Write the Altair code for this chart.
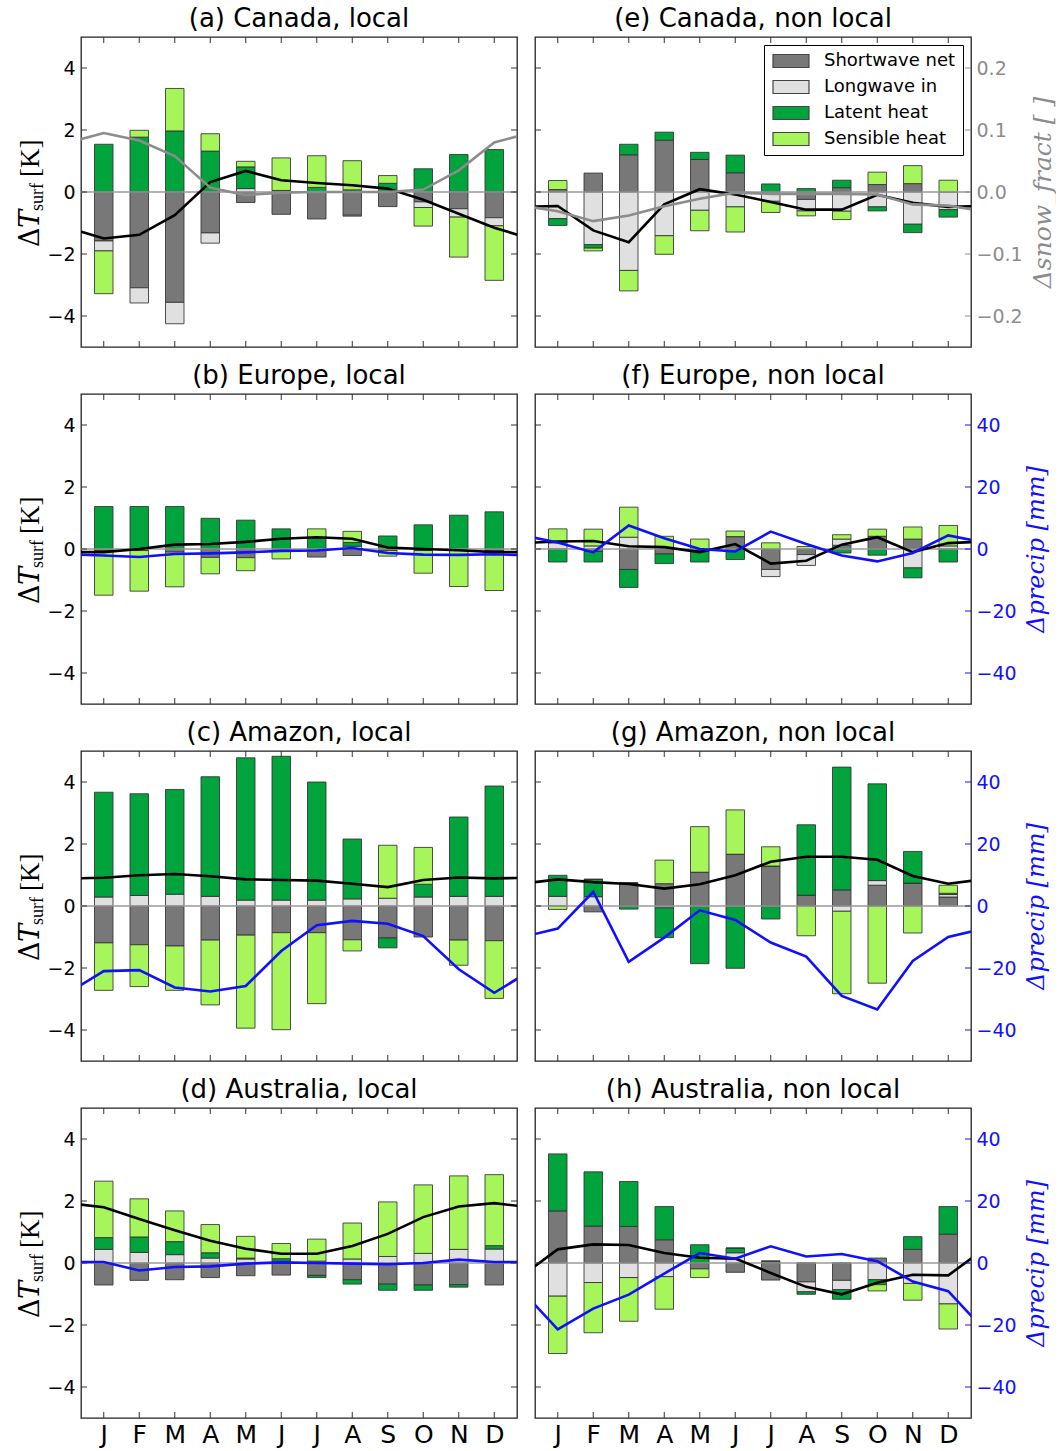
import altair as alt
import pandas as pd

MONTHS = ["J", "F", "M", "A", "M", "J", "J", "A", "S", "O", "N", "D"]
SERIES = ["Shortwave net", "Longwave in", "Latent heat", "Sensible heat"]
COLORS = ["#787878", "#e0e0e0", "#00a33c", "#a6f55a"]
Y_TICKS = [-4, -2, 0, 2, 4]

# ---- Canada -------------------------------------------------------------
canada_local_sw = [-1.58, -3.09, -3.56, -1.32, -0.34, -0.72, -0.87, -0.75, -0.47, -0.32, -0.54, -0.83]
canada_local_lw = [-0.32, -0.49, -0.69, -0.33, 0.11, 0.0, 0.0, -0.03, 0.0, -0.18, -0.27, -0.26]
canada_local_lh = [1.54, 1.77, 1.97, 1.32, 0.70, 0.05, 0.15, 0.07, 0.28, 0.75, 1.21, 1.37]
canada_local_sh = [-1.38, 0.22, 1.37, 0.56, 0.18, 1.05, 1.02, 0.94, 0.25, -0.60, -1.29, -1.76]
canada_local_dt = [-1.50, -1.38, -0.75, 0.32, 0.68, 0.38, 0.29, 0.22, 0.11, -0.25, -0.70, -1.15]
canada_local_snow = [0.095, 0.083, 0.058, 0.007, -0.005, -0.001, 0.0, 0.0, 0.0, 0.004, 0.035, 0.080]

canada_nonlocal_sw = [0.08, 0.61, 1.20, 1.67, 1.05, 0.62, 0.0, -0.24, 0.14, 0.24, 0.27, 0.0]
canada_nonlocal_lw = [-0.86, -1.70, -2.53, -1.41, -0.59, -0.48, -0.30, -0.37, -0.62, -0.48, -1.04, -0.57]
canada_nonlocal_lh = [-0.22, -0.11, 0.34, 0.26, 0.23, 0.57, 0.26, 0.11, 0.24, -0.13, -0.27, -0.24]
canada_nonlocal_sh = [0.29, -0.09, -0.66, -0.60, -0.66, -0.81, -0.36, -0.16, -0.27, 0.40, 0.58, 0.38]
canada_nonlocal_dt = [-0.45, -1.24, -1.62, -0.40, 0.09, -0.08, -0.32, -0.57, -0.57, -0.09, -0.35, -0.48]
canada_nonlocal_snow = [-0.031, -0.047, -0.038, -0.023, -0.011, -0.001, -0.003, -0.003, -0.003, -0.004, -0.020, -0.022]

# ---- Europe -------------------------------------------------------------
europe_local_sw = [0.0, 0.0, -0.10, -0.27, -0.28, -0.05, -0.26, -0.21, -0.05, -0.05, 0.0, 0.0]
europe_local_lw = [-0.05, -0.05, 0.0, 0.0, 0.0, 0.0, 0.0, 0.09, 0.0, 0.0, -0.05, -0.05]
europe_local_lh = [1.37, 1.37, 1.37, 0.99, 0.93, 0.65, 0.35, 0.12, 0.42, 0.78, 1.09, 1.20]
europe_local_sh = [-1.44, -1.31, -1.12, -0.53, -0.42, -0.27, 0.30, 0.36, -0.18, -0.73, -1.16, -1.29]
europe_local_dt = [-0.10, 0.0, 0.14, 0.16, 0.23, 0.33, 0.38, 0.33, 0.05, 0.0, -0.04, -0.10]
europe_local_precip = [-2.1, -2.6, -1.6, -1.4, -1.1, -0.6, -0.5, 0.3, -1.3, -1.8, -1.9, -1.7]

europe_nonlocal_sw = [0.0, -0.08, -0.66, -0.16, -0.05, 0.40, -0.66, -0.18, 0.12, 0.41, 0.32, 0.0]
europe_nonlocal_lw = [0.20, 0.10, 0.38, 0.05, 0.0, 0.0, -0.23, -0.35, 0.20, 0.0, -0.61, 0.10]
europe_nonlocal_lh = [-0.42, -0.34, -0.58, -0.31, -0.37, -0.34, 0.0, 0.0, -0.13, -0.20, -0.32, -0.42]
europe_nonlocal_sh = [0.45, 0.54, 0.97, 0.36, 0.32, 0.18, 0.20, 0.08, 0.14, 0.23, 0.39, 0.66]
europe_nonlocal_dt = [0.24, 0.26, 0.09, 0.06, -0.10, 0.16, -0.47, -0.38, 0.14, 0.38, -0.10, 0.19]
europe_nonlocal_precip = [2.1, -1.1, 7.6, 3.5, 0.0, -0.8, 5.6, 1.6, -2.1, -4.0, -1.3, 4.4]

# ---- Amazon -------------------------------------------------------------
amazon_local_sw = [-1.19, -1.25, -1.29, -1.10, -0.94, -0.86, -0.86, -1.09, -1.03, -1.00, -1.10, -1.12]
amazon_local_lw = [0.29, 0.34, 0.38, 0.31, 0.19, 0.19, 0.19, 0.23, 0.25, 0.29, 0.31, 0.31]
amazon_local_lh = [3.38, 3.28, 3.38, 3.86, 4.59, 4.64, 3.81, 1.93, -0.32, 0.41, 2.56, 3.56]
amazon_local_sh = [-1.53, -1.35, -1.43, -2.09, -3.00, -3.13, -2.29, -0.36, 1.71, 1.19, -0.81, -1.86]
amazon_local_dt = [0.91, 0.99, 1.03, 0.96, 0.86, 0.84, 0.82, 0.72, 0.61, 0.84, 0.92, 0.89]
amazon_local_precip = [-21.0, -20.7, -26.3, -27.6, -25.8, -14.5, -6.2, -4.8, -5.7, -9.7, -20.4, -28.0]

amazon_nonlocal_sw = [0.0, -0.19, 0.74, 0.72, 1.09, 1.67, 1.29, 0.35, 0.52, 0.67, 0.74, 0.29]
amazon_nonlocal_lw = [0.31, 0.30, 0.0, -0.06, 0.0, 0.0, 0.0, 0.0, -0.17, 0.15, 0.0, 0.08]
amazon_nonlocal_lh = [0.68, 0.56, -0.10, -0.96, -1.86, -2.01, -0.42, 2.27, 3.96, 3.12, 1.02, 0.04]
amazon_nonlocal_sh = [-0.11, 0.0, 0.0, 0.76, 1.47, 1.43, 0.62, -0.96, -2.66, -2.49, -0.87, 0.26]
amazon_nonlocal_dt = [0.86, 0.77, 0.71, 0.56, 0.70, 0.99, 1.43, 1.59, 1.59, 1.49, 0.97, 0.72]
amazon_nonlocal_precip = [-7.3, 4.6, -18.0, -10.2, -1.4, -4.5, -11.8, -16.3, -29.0, -33.4, -17.7, -10.0]

# ---- Australia ----------------------------------------------------------
australia_local_sw = [-0.71, -0.56, -0.54, -0.47, -0.41, -0.39, -0.40, -0.54, -0.68, -0.71, -0.70, -0.71]
australia_local_lw = [0.44, 0.34, 0.27, 0.16, 0.13, 0.06, 0.06, 0.13, 0.21, 0.31, 0.44, 0.45]
australia_local_lh = [0.38, 0.50, 0.42, 0.17, 0.03, 0.08, -0.07, -0.14, -0.20, -0.17, -0.08, 0.11]
australia_local_sh = [1.82, 1.23, 0.99, 0.91, 0.70, 0.49, 0.71, 1.16, 1.76, 2.21, 2.37, 2.29]
australia_local_dt = [1.80, 1.42, 1.06, 0.72, 0.46, 0.30, 0.30, 0.55, 0.94, 1.48, 1.82, 1.93]
australia_local_precip = [0.3, -2.4, -1.3, -1.1, -0.2, 0.2, 0.0, -0.2, -0.4, 0.0, 1.1, 0.3]

australia_nonlocal_sw = [1.68, 1.19, 1.18, 0.75, -0.19, -0.30, -0.55, -0.61, -0.56, 0.16, 0.44, 0.93]
australia_nonlocal_lw = [-1.07, -0.63, -0.47, -0.44, 0.0, 0.33, 0.0, -0.32, -0.30, -0.54, -0.66, -1.32]
australia_nonlocal_lh = [1.84, 1.75, 1.45, 1.07, 0.59, 0.15, 0.06, -0.08, -0.31, -0.16, 0.41, 0.89]
australia_nonlocal_sh = [-1.85, -1.62, -1.41, -1.05, -0.28, 0.0, 0.0, 0.0, 0.0, -0.20, -0.54, -0.81]
australia_nonlocal_dt = [0.44, 0.60, 0.58, 0.32, 0.17, 0.14, -0.32, -0.77, -1.01, -0.64, -0.38, -0.40]
australia_nonlocal_precip = [-21.4, -14.7, -10.2, -3.4, 3.2, 1.4, 5.4, 2.1, 2.9, 0.6, -6.0, -9.1]

SNOW = dict(domain=[-0.25, 0.25], ticks=[-0.2, -0.1, 0.0, 0.1, 0.2], fmt=".1f",
            color="#8c8c8c", title="\u0394snow_fract [ ]", title_size=25)
PRECIP = dict(domain=[-50, 50], ticks=[-40, -20, 0, 20, 40], fmt="d",
              color="#1010ff", title="\u0394precip [mm]", title_size=24)

PANELS = [
    ("(a) Canada, local", canada_local_sw, canada_local_lw, canada_local_lh, canada_local_sh,
     canada_local_dt, canada_local_snow, SNOW),
    ("(e) Canada, non local", canada_nonlocal_sw, canada_nonlocal_lw, canada_nonlocal_lh, canada_nonlocal_sh,
     canada_nonlocal_dt, canada_nonlocal_snow, SNOW),
    ("(b) Europe, local", europe_local_sw, europe_local_lw, europe_local_lh, europe_local_sh,
     europe_local_dt, europe_local_precip, PRECIP),
    ("(f) Europe, non local", europe_nonlocal_sw, europe_nonlocal_lw, europe_nonlocal_lh, europe_nonlocal_sh,
     europe_nonlocal_dt, europe_nonlocal_precip, PRECIP),
    ("(c) Amazon, local", amazon_local_sw, amazon_local_lw, amazon_local_lh, amazon_local_sh,
     amazon_local_dt, amazon_local_precip, PRECIP),
    ("(g) Amazon, non local", amazon_nonlocal_sw, amazon_nonlocal_lw, amazon_nonlocal_lh, amazon_nonlocal_sh,
     amazon_nonlocal_dt, amazon_nonlocal_precip, PRECIP),
    ("(d) Australia, local", australia_local_sw, australia_local_lw, australia_local_lh, australia_local_sh,
     australia_local_dt, australia_local_precip, PRECIP),
    ("(h) Australia, non local", australia_nonlocal_sw, australia_nonlocal_lw, australia_nonlocal_lh,
     australia_nonlocal_sh, australia_nonlocal_dt, australia_nonlocal_precip, PRECIP),
]

W, H = 436, 310
SANS = "DejaVu Sans"
X_SCALE = alt.Scale(domain=[-0.5, 11.5], nice=False, zero=False)
Y_SCALE = alt.Scale(domain=[-5, 5], nice=False, zero=False)
MONTH_EXPR = "[" + ",".join("'%s'" % m for m in MONTHS) + "][datum.value]"


def cyclic(values):
    """Monthly series with December repeated before January and January after
    December, so the clipped line closes the annual cycle at the frame edges."""
    return pd.DataFrame({"m": list(range(-1, 13)),
                         "v": [values[-1]] + list(values) + [values[0]]})


def y_title():
    """Left axis title  ΔT_surf [K]  built from rotated text pieces."""
    one = pd.DataFrame({"a": [0]})
    pieces = [
        ("\u0394", "DejaVu Serif", "normal", 27, -42, 210),
        ("T", "DejaVu Serif", "italic", 27, -42, 191),
        ("surf", "Liberation Serif", "normal", 18, -38, 174),
        ("[K]", "Liberation Serif", "normal", 27, -42, 140),
    ]
    out = []
    for txt, font, style, size, x, y in pieces:
        out.append(alt.Chart(one).mark_text(
            text=txt, font=font, fontStyle=style, fontSize=size, angle=270,
            align="left", baseline="alphabetic", color="black"
        ).encode(x=alt.value(x), y=alt.value(y)))
    return out


def panel(idx, title, sw, lw, lh, sh, dt, aux, spec):
    col, row = idx % 2, idx // 2
    left, bottom = col == 0, row == 3

    recs = []
    for k, (name, vals) in enumerate(zip(SERIES, (sw, lw, lh, sh))):
        for m, v in enumerate(vals):
            recs.append({"m": m, "k": k, "flux": name, "v": v})
    flux_df = pd.DataFrame(recs)

    if bottom:
        x_axis = alt.Axis(values=list(range(12)), labelExpr=MONTH_EXPR, ticks=False,
                          domain=False, grid=False, labelFontSize=25, labelFont=SANS,
                          labelPadding=4, title=None, labelColor="black")
    else:
        x_axis = alt.Axis(values=list(range(12)), ticks=False, labels=False,
                          domain=False, grid=False, title=None)
    if left:
        y_axis = alt.Axis(values=Y_TICKS, ticks=False, domain=False, grid=False,
                          labelFontSize=19, labelFont=SANS, labelPadding=6, title=None,
                          labelColor="black")
    else:
        y_axis = alt.Axis(values=Y_TICKS, ticks=False, labels=False, domain=False,
                          grid=False, title=None)

    X = lambda f: alt.X(f, scale=X_SCALE, axis=x_axis)
    Y = lambda f, **kw: alt.Y(f, scale=Y_SCALE, axis=y_axis, **kw)

    legend = None
    if idx == 1:
        # wide swatch drawn to the right of a small nominal symbol keeps rows compact
        legend = alt.Legend(
            orient="top-right", offset=8, title=None, fillColor="white",
            strokeColor="black", padding=7, cornerRadius=0,
            symbolType="M-1,-0.93H4.14V0.93H-1Z", symbolSize=196,
            symbolStrokeColor="#444444", symbolStrokeWidth=1.2, symbolOpacity=1,
            labelFontSize=18, labelFont=SANS, labelColor="black", labelOffset=35,
            rowPadding=8)

    bars = alt.Chart(flux_df).mark_bar(
        size=18.5, orient="vertical", stroke="#333333", strokeWidth=1, strokeOpacity=0.85
    ).encode(
        x=X("m:Q"),
        y=Y("v:Q", stack="zero"),
        color=alt.Color("flux:N", scale=alt.Scale(domain=SERIES, range=COLORS), legend=legend),
        order=alt.Order("k:Q", sort="ascending"),
    )

    zero = alt.Chart(pd.DataFrame({"v": [0]})).mark_rule(
        color="#9a9a9a", strokeWidth=1.6
    ).encode(y=Y("v:Q"))

    dt_line = alt.Chart(cyclic(dt)).mark_line(
        color="black", strokeWidth=2.6, clip=True
    ).encode(x=X("m:Q"), y=Y("v:Q"))

    # matplotlib-style ticks pointing into the frame
    right_color = spec["color"] if not left else "#333333"
    yt = pd.DataFrame({"v": Y_TICKS})
    xt = pd.DataFrame({"m": list(range(12))})
    ticks = [
        alt.Chart(yt).mark_rule(color="#333333", strokeWidth=1).encode(
            y=Y("v:Q"), x=alt.value(0), x2=alt.value(6)),
        alt.Chart(yt).mark_rule(color=right_color, strokeWidth=1).encode(
            y=Y("v:Q"), x=alt.value(W - 6), x2=alt.value(W)),
        alt.Chart(xt).mark_rule(color="#333333", strokeWidth=1).encode(
            x=X("m:Q"), y=alt.value(0), y2=alt.value(6)),
        alt.Chart(xt).mark_rule(color="#333333", strokeWidth=1).encode(
            x=X("m:Q"), y=alt.value(H - 6), y2=alt.value(H)),
    ]

    layers = [bars, zero, dt_line] + ticks
    if left:
        layers += y_title()
    base = alt.layer(*layers)

    if left:
        aux_axis = None
    else:
        aux_axis = alt.Axis(
            orient="right", values=spec["ticks"], format=spec["fmt"], ticks=False,
            domain=False, grid=False, labelFontSize=19, labelFont=SANS,
            labelColor=spec["color"], labelPadding=5, title=spec["title"],
            titleColor=spec["color"], titleFont="DejaVu Serif", titleFontStyle="italic",
            titleFontWeight="normal", titleFontSize=spec["title_size"], titleAngle=270,
            titleBaseline="top", titlePadding=8)

    aux_line = alt.Chart(cyclic(aux)).mark_line(
        color=spec["color"], strokeWidth=2.6, clip=True
    ).encode(x=X("m:Q"),
             y=alt.Y("v:Q", scale=alt.Scale(domain=spec["domain"], nice=False, zero=False),
                     axis=aux_axis))

    return alt.layer(base, aux_line).resolve_scale(y="independent").properties(
        width=W, height=H,
        title=alt.TitleParams(title, fontSize=26, font=SANS, fontWeight="normal",
                              color="black", offset=5, anchor="middle"),
    )


charts = [panel(i, *p) for i, p in enumerate(PANELS)]

chart = alt.concat(*charts, columns=2, spacing={"row": 12, "column": 14}).resolve_legend(
    color="independent"
).properties(
    padding={"left": 16, "top": 4, "right": 0, "bottom": 0},
    background="white",
).configure_view(
    stroke="#222222", strokeWidth=1.3
)

chart.save("out.html", embed_options={"renderer": "svg", "actions": False})
